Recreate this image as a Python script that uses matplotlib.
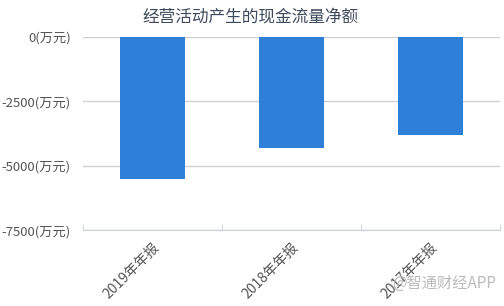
import numpy as np
import matplotlib
matplotlib.use('Agg')
import matplotlib.pyplot as plt

plt.rcParams['font.family'] = ['Noto Sans CJK SC', 'DejaVu Sans']
plt.rcParams['axes.unicode_minus'] = False

# 数据
categories = ['2019年年报', '2018年年报', '2017年年报']
values = [-5500, -4310, -3800]
y_ticks = [0, -2500, -5000, -7500]
y_labels = ['0(万元)', '-2500(万元)', '-5000(万元)', '-7500(万元)']

fig = plt.figure(figsize=(5.04, 3.06), dpi=100)
ax = fig.add_axes([0.165, 0.248, 0.827, 0.631])

x = np.arange(len(categories))
ax.bar(x, values, width=0.47, color='#2e7fd8', zorder=3)

ax.set_xlim(-0.5, len(categories) - 0.5)
ax.set_ylim(-7500, 0)
ax.set_yticks(y_ticks)
ax.set_yticklabels(y_labels, fontsize=9.5, color='#555555')
ax.yaxis.grid(True, color='#d0d0d0', linewidth=1, zorder=0)
ax.tick_params(axis='y', length=0, pad=9)

# x轴: 分类边界刻度
ax.set_xticks(x)
ax.set_xticklabels(categories, rotation=45, ha='right', va='top',
                   rotation_mode='anchor', fontsize=10, color='#555555')
ax.tick_params(axis='x', length=0, pad=7)
ax.set_xticks(np.arange(len(categories) + 1) - 0.5, minor=True)
ax.tick_params(axis='x', which='minor', length=4, color='#c8d0da', direction='in')

for s in ['top', 'right', 'left']:
    ax.spines[s].set_visible(False)
ax.spines['bottom'].set_color('#c8d0da')

fig.text(0.497, 0.945, '经营活动产生的现金流量净额', ha='center', va='center',
         fontsize=12, color='#3d4a5c')
fig.text(0.985, 0.075, '@智通财经APP', ha='right', va='center',
         fontsize=11, color='#bbbbbb')

plt.savefig('out.png', dpi=100)
